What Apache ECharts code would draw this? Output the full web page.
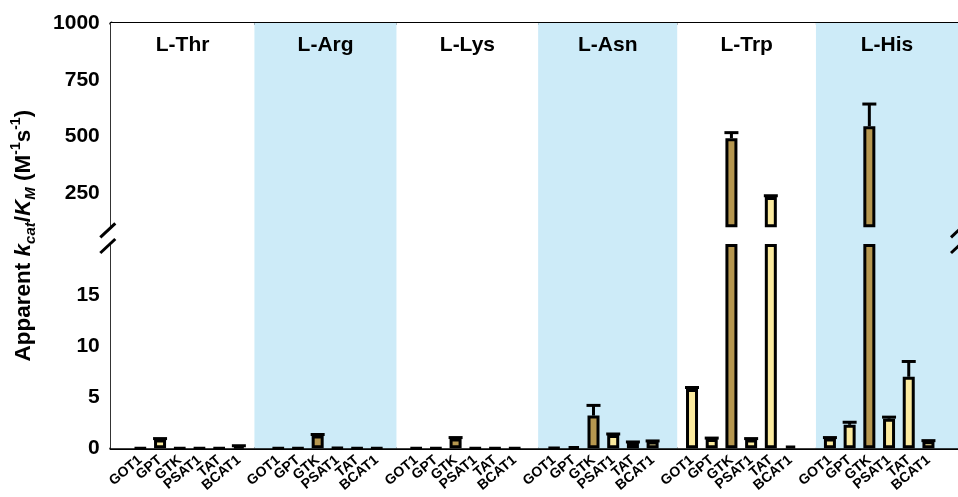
<!DOCTYPE html>
<html><head><meta charset="utf-8">
<script src="https://cdn.jsdelivr.net/npm/echarts@6/dist/echarts.min.js"></script>
<style>html,body{margin:0;padding:0;background:#fff}#c{width:958px;height:497px}</style>
</head><body><div id="c"></div>
<script>
// ---------- data ----------
const groups = ['L-Thr', 'L-Arg', 'L-Lys', 'L-Asn', 'L-Trp', 'L-His'];
const enzymes = ['GOT1', 'GPT', 'GTK', 'PSAT1', 'TAT', 'BCAT1'];
// apparent kcat/KM (M^-1 s^-1), enzyme order as above
const thrValues = [0.03, 0.85, 0.03, 0.03, 0.03, 0.2];
const argValues = [0.03, 0.03, 1.25, 0.05, 0.03, 0.03];
const lysValues = [0.03, 0.03, 0.95, 0.03, 0.03, 0.03];
const asnValues = [0.05, 0.15, 3.2, 1.3, 0.57, 0.67];
const trpValues = [5.8, 0.9, 492, 0.85, 233, 0.25];
const hisValues = [0.95, 2.3, 545, 2.9, 7.0, 0.7];
// upper error (SD)
const thrErrors = [0, 0.1, 0, 0, 0, 0.05];
const argErrors = [0, 0, 0.1, 0, 0, 0];
const lysErrors = [0, 0, 0.1, 0, 0, 0];
const asnErrors = [0, 0, 1.0, 0.1, 0.05, 0.05];
const trpErrors = [0.15, 0.1, 25, 0.1, 6, 0];
const hisErrors = [0.1, 0.25, 98, 0.15, 1.5, 0.05];
// axis ranges / ticks
const upperRange = [100, 1000];
const lowerRange = [0, 20];
const upperTicks = [250, 500, 750, 1000];
const lowerTicks = [0, 5, 10, 15];

// ---------- layout / style ----------
const W = 958;
const LEFT = 110.8, RIGHT = -4, TOP = 23, PANEL_H = 204.3, LOWER_TOP = 244;
const UPPER_BOTTOM = TOP + PANEL_H;
const BASE = LOWER_TOP + PANEL_H;
const DARK = '#B6974F', LIGHT = '#FBEA9E', BLUE = '#CDEBF8';
const FONT = "'Liberation Sans', Arial, Helvetica, sans-serif";
const SLOTS_PER_GROUP = 7;
const TOTAL_SLOTS = groups.length * SLOTS_PER_GROUP + 1;
const bandEdges = [0, 7.29, 14.51, 21.69, 28.76, 35.79, TOTAL_SLOTS];

const allValues = [thrValues, argValues, lysValues, asnValues, trpValues, hisValues];
const allErrors = [thrErrors, argErrors, lysErrors, asnErrors, trpErrors, hisErrors];

// build category slots (one empty slot before each group, one trailing)
const cats = [], vals = [], errs = [];
groups.forEach((g, gi) => {
  cats.push(''); vals.push(null); errs.push(0);
  enzymes.forEach((e, ei) => { cats.push(e); vals.push(allValues[gi][ei]); errs.push(allErrors[gi][ei]); });
});
cats.push(''); vals.push(null); errs.push(0);

const lowerMax = lowerRange[1], upperMin = upperRange[0];
const lowerData = vals.map(v => v == null ? '-' : Math.min(v, lowerMax));
const upperBase = vals.map(v => v != null && v > lowerMax ? upperMin : '-');
const upperTop = vals.map(v => v != null && v > lowerMax ? v - upperMin : '-');
const lowerErr = [], upperErr = [];
vals.forEach((v, i) => {
  if (v == null || !errs[i]) return;
  (v > lowerMax ? upperErr : lowerErr).push([i, v, errs[i]]);
});

const barColor = p => cats[p.dataIndex] === 'GTK' ? DARK : LIGHT;

function errRender(params, api) {
  const x = api.value(0), v = api.value(1), e = api.value(2);
  const p0 = api.coord([x, v]), p1 = api.coord([x, v + e]);
  const hw = 7;
  const st = { stroke: '#000', lineWidth: 3 };
  return { type: 'group', children: [
    { type: 'line', shape: { x1: p0[0], y1: p0[1], x2: p1[0], y2: p1[1] }, style: st },
    { type: 'line', shape: { x1: p0[0] - hw, y1: p1[1], x2: p0[0] + hw, y2: p1[1] }, style: st }
  ]};
}

function slash(cx, cy) {
  return { type: 'line', z: 100, shape: { x1: cx - 7.5, y1: cy + 7, x2: cx + 7.5, y2: cy - 7 },
           style: { stroke: '#000', lineWidth: 3 } };
}

const tickLabel = { fontSize: 21, fontWeight: 'bold', color: '#000', fontFamily: FONT, margin: 11,
                    formatter: v => String(v) };
const axisLine = { show: true, lineStyle: { color: '#000', width: 3 } };

const chart = echarts.init(document.getElementById('c'), null, { renderer: 'canvas' });
chart.setOption({
  animation: false,
  textStyle: { fontFamily: FONT },
  grid: [
    { left: LEFT, right: RIGHT, top: TOP, height: BASE - TOP },
    { left: LEFT, right: RIGHT, top: TOP, height: PANEL_H },
    { left: LEFT, right: RIGHT, top: LOWER_TOP, height: PANEL_H }
  ],
  xAxis: [
    { gridIndex: 0, type: 'value', min: 0, max: TOTAL_SLOTS, show: false },
    { gridIndex: 1, type: 'category', data: cats, position: 'top', axisLine: axisLine,
      axisTick: { show: false }, axisLabel: { show: false } },
    { gridIndex: 2, type: 'category', data: cats, axisLine: axisLine, axisTick: { show: false },
      axisLabel: { interval: 0, rotate: 40, fontSize: 14, fontWeight: 'bold', color: '#000', fontFamily: FONT, margin: 10 } }
  ],
  yAxis: [
    { gridIndex: 0, type: 'value', min: 0, max: 1, axisLine: { show: false }, axisTick: { show: false },
      axisLabel: { show: false }, splitLine: { show: false },
      name: '{b|Apparent }{bi|k}{sub|cat}{b|/}{bi|K}{sub|M}{b| (M}{sup|-1}{b|s}{sup|-1}{b|)}',
      nameLocation: 'middle', nameRotate: 90, nameGap: 72,
      nameTextStyle: { rich: {
        b: { fontSize: 22.5, fontWeight: 'bold', color: '#000', fontFamily: FONT, lineHeight: 30 },
        bi: { fontSize: 22.5, fontWeight: 'bold', fontStyle: 'italic', color: '#000', fontFamily: FONT, lineHeight: 30 },
        sub: { fontSize: 15, fontWeight: 'bold', fontStyle: 'italic', color: '#000', fontFamily: FONT, verticalAlign: 'bottom', lineHeight: 14 },
        sup: { fontSize: 14, fontWeight: 'bold', color: '#000', fontFamily: FONT, verticalAlign: 'top', lineHeight: 14 }
      } } },
    { gridIndex: 1, type: 'value', min: upperRange[0], max: upperRange[1], axisLine: axisLine,
      axisTick: { show: true, inside: true, length: 9, lineStyle: { color: '#000', width: 3 }, customValues: upperTicks },
      axisLabel: Object.assign({ customValues: upperTicks }, tickLabel), splitLine: { show: false } },
    { gridIndex: 2, type: 'value', min: lowerRange[0], max: lowerRange[1], axisLine: axisLine,
      axisTick: { show: true, inside: true, length: 9, lineStyle: { color: '#000', width: 3 }, customValues: lowerTicks },
      axisLabel: Object.assign({ customValues: lowerTicks }, tickLabel), splitLine: { show: false } }
  ],
  series: [
    { type: 'line', xAxisIndex: 0, yAxisIndex: 0, data: [], silent: true, z: -1,
      markArea: { silent: true,
        label: { show: true, position: 'insideTop', distance: 12, fontSize: 21, fontWeight: 'bold', color: '#000', fontFamily: FONT },
        data: groups.map((g, i) => [
          { name: g, xAxis: bandEdges[i], itemStyle: { color: i % 2 ? BLUE : '#ffffff' } },
          { xAxis: bandEdges[i + 1] }
        ]) } },
    { type: 'bar', xAxisIndex: 1, yAxisIndex: 1, stack: 'up', data: upperBase, barWidth: 12,
      itemStyle: { color: 'transparent', borderWidth: 0 }, silent: true },
    { type: 'bar', xAxisIndex: 1, yAxisIndex: 1, stack: 'up', data: upperTop, barWidth: 12, clip: false,
      itemStyle: { color: barColor, borderColor: '#000', borderWidth: 3 } },
    { type: 'bar', xAxisIndex: 2, yAxisIndex: 2, data: lowerData, barWidth: 12, clip: false,
      itemStyle: { color: barColor, borderColor: '#000', borderWidth: 3 } },
    { type: 'custom', xAxisIndex: 1, yAxisIndex: 1, data: upperErr, renderItem: errRender, clip: false, z: 5,
      encode: { x: 0, y: 1 } },
    { type: 'custom', xAxisIndex: 2, yAxisIndex: 2, data: lowerErr, renderItem: errRender, clip: false, z: 5,
      encode: { x: 0, y: 1 } }
  ],
  graphic: [
    slash(LEFT - 3, UPPER_BOTTOM + 3), slash(LEFT - 3, LOWER_TOP + 2),
    slash(W - RIGHT - 3.5, UPPER_BOTTOM + 3), slash(W - RIGHT - 3.5, LOWER_TOP + 2)
  ]
});
</script>
</body></html>
